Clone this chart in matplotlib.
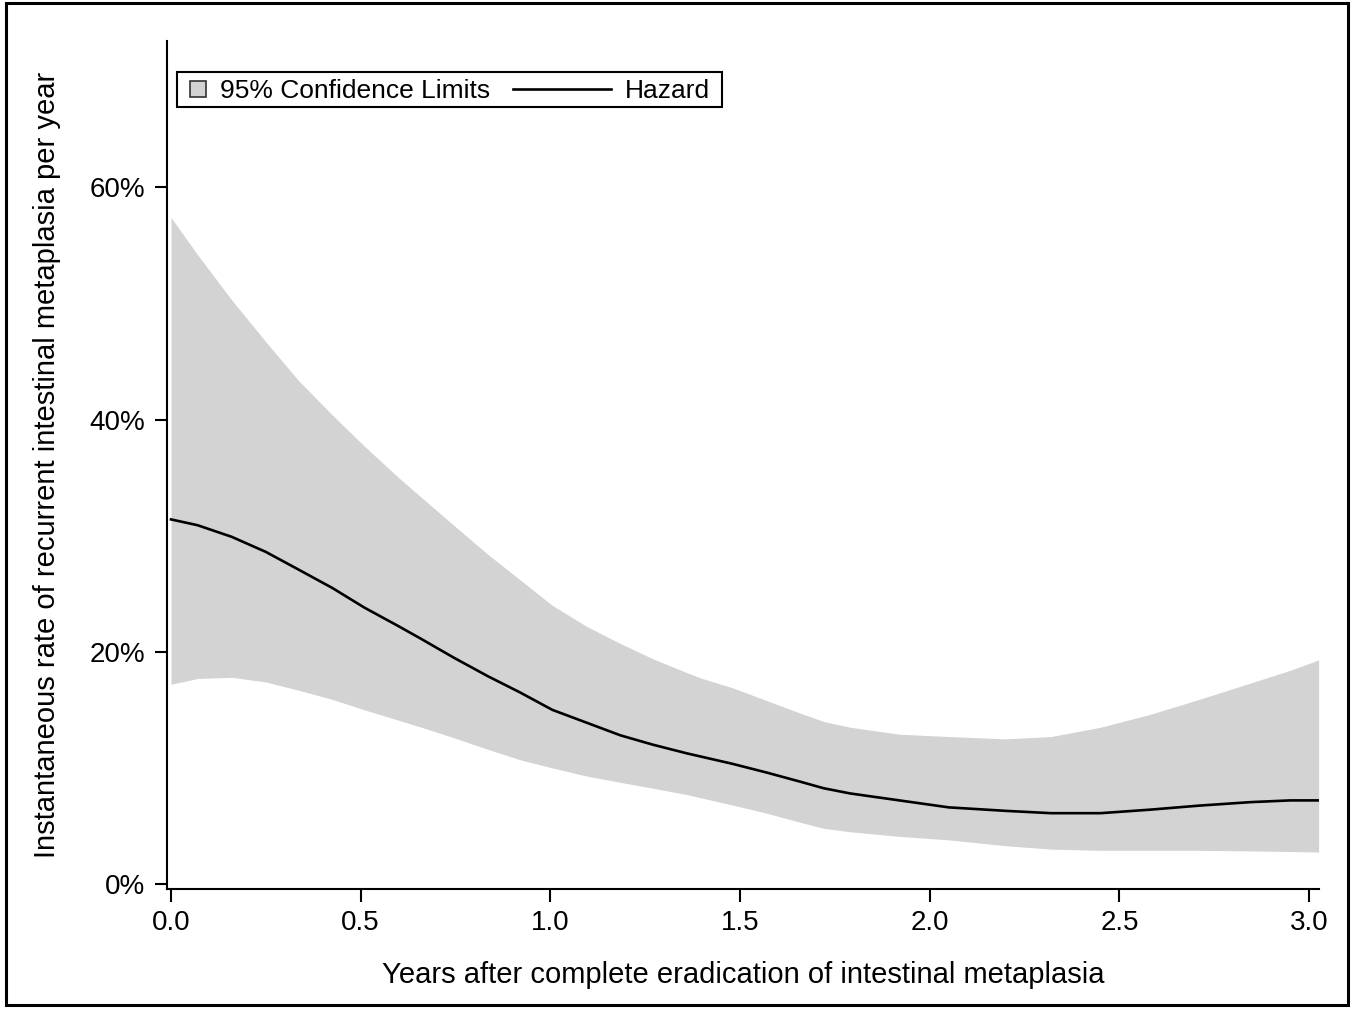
import matplotlib
matplotlib.use("Agg")
import matplotlib.pyplot as plt
from matplotlib.patches import Rectangle, Patch
from matplotlib.lines import Line2D
from matplotlib.legend_handler import HandlerPatch
from matplotlib.ticker import FuncFormatter

# Data, values in percent per year
years = [0.00, 0.07, 0.16, 0.25, 0.335, 0.425, 0.51, 0.60, 0.66, 0.745, 0.835,
         0.92, 1.005, 1.095, 1.185, 1.27, 1.36, 1.40, 1.48, 1.57, 1.66, 1.72,
         1.79, 1.92, 2.05, 2.20, 2.32, 2.45, 2.58, 2.71, 2.845, 2.95, 3.025]
hazard = [31.4, 30.9, 29.9, 28.6, 27.1, 25.5, 23.8, 22.2, 21.1, 19.5, 17.9,
          16.5, 15.0, 13.9, 12.8, 12.0, 11.25, 10.95, 10.35, 9.6, 8.8, 8.25,
          7.8, 7.2, 6.6, 6.3, 6.1, 6.1, 6.4, 6.75, 7.05, 7.2, 7.2]
upper = [57.4, 54.2, 50.3, 46.7, 43.4, 40.4, 37.7, 35.0, 33.3, 30.9, 28.4,
         26.2, 24.0, 22.2, 20.7, 19.4, 18.2, 17.7, 16.9, 15.8, 14.7, 14.0,
         13.5, 12.9, 12.7, 12.5, 12.7, 13.5, 14.6, 15.9, 17.3, 18.4, 19.3]
lower = [17.2, 17.7, 17.8, 17.4, 16.7, 15.9, 15.0, 14.1, 13.5, 12.6, 11.6,
         10.7, 10.0, 9.3, 8.75, 8.25, 7.7, 7.4, 6.8, 6.1, 5.3, 4.8,
         4.5, 4.1, 3.8, 3.3, 3.0, 2.9, 2.9, 2.9, 2.85, 2.8, 2.75]
x_ticks = [0.0, 0.5, 1.0, 1.5, 2.0, 2.5, 3.0]
y_ticks = [0, 20, 40, 60]

plt.rcParams['font.family'] = ['Liberation Sans', 'DejaVu Sans']
FS_TICK = 20
FS_LABEL = 21
FS_LEG = 19
W, H = 1355, 1011
fig = plt.figure(figsize=(W / 100, H / 100), dpi=100)
ax = fig.add_axes([167 / W, 1 - 889 / H, (1319 - 167) / W, (889 - 41) / H])

band_color = '#d3d3d3'
ax.fill_between(years, lower, upper, color=band_color, linewidth=0,
                label='95% Confidence Limits')
ax.plot(years, hazard, color='black', lw=1.9, label='Hazard')

ax.set_xlim(-0.0105, 3.026)
ax.set_ylim(-0.43, 72.6)
ax.set_xticks(x_ticks)
ax.set_xticklabels([f"{t:.1f}" for t in x_ticks])
ax.set_yticks(y_ticks)
ax.yaxis.set_major_formatter(FuncFormatter(lambda v, p: f"{v:.0f}%"))

for s in ['top', 'right']:
    ax.spines[s].set_visible(False)
for s in ['left', 'bottom']:
    ax.spines[s].set_linewidth(1.5)
ax.tick_params(axis='both', direction='out', length=9, width=1.5,
               labelsize=FS_TICK, colors='black')
ax.tick_params(axis='y', pad=7)
ax.tick_params(axis='x', pad=6)

ax.set_xlabel('Years after complete eradication of intestinal metaplasia',
              fontsize=FS_LABEL, labelpad=18)
ax.set_ylabel('Instantaneous rate of recurrent intestinal metaplasia per year',
              fontsize=FS_LABEL, labelpad=20)


class SquareHandler(HandlerPatch):
    def legend_artist(self, legend, orig_handle, fontsize, handlebox):
        handlebox.width = 0.6 * fontsize
        return super().legend_artist(legend, orig_handle, fontsize, handlebox)

    def create_artists(self, legend, orig_handle, xdescent, ydescent, width,
                       height, fontsize, trans):
        s = 0.6 * fontsize
        r = Rectangle((-xdescent, -ydescent + (height - s) / 2), s, s,
                      facecolor=band_color, edgecolor='#333333', lw=1.2,
                      transform=trans)
        return [r]


h_band = Patch(facecolor=band_color, edgecolor='#333333')
h_line = Line2D([], [], color='black', lw=1.9)
PADX_L, PADX_R, PADY_T, PADY_B = 13, 12, 7, 4
leg = ax.legend([h_band, h_line], ['95% Confidence Limits', 'Hazard'],
                handler_map={Patch: SquareHandler()},
                loc='upper left',
                bbox_to_anchor=((177 + PADX_L) / W, 1 - (72 + PADY_T) / H),
                bbox_transform=fig.transFigure, borderaxespad=0,
                ncol=2, fontsize=FS_LEG, handlelength=3.7, handletextpad=0.55,
                columnspacing=0.85, borderpad=0, frameon=False)

fig.canvas.draw()
bb = leg.get_window_extent()
fig.patches.append(Rectangle(((bb.x0 - PADX_L) / W, (bb.y0 - PADY_B) / H),
                             (bb.width + PADX_L + PADX_R) / W,
                             (bb.height + PADY_T + PADY_B) / H,
                             transform=fig.transFigure, fill=False,
                             edgecolor='black', lw=1.5))

fig.patches.append(Rectangle((6 / W, 6 / H), (1348 - 6) / W, (1008 - 6) / H,
                             transform=fig.transFigure, fill=False,
                             edgecolor='black', lw=2.2))

fig.savefig('out.png', dpi=100)
